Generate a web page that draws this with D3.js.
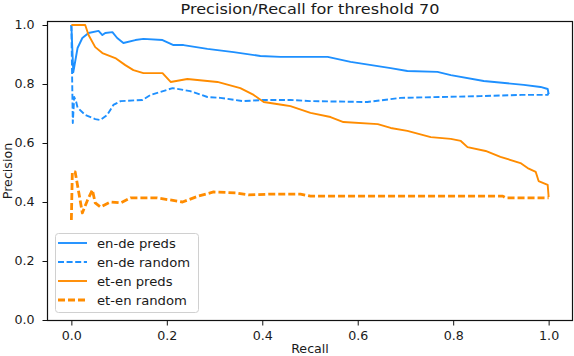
<!DOCTYPE html>
<html><head><meta charset="utf-8">
<script src="https://cdn.jsdelivr.net/npm/d3@7"></script>
<style>body{margin:0;background:#fff}svg{display:block}text{font-family:"DejaVu Sans",sans-serif;fill:#1a1a1a}</style>
</head><body><svg id="c" width="574" height="356"></svg>
<script>
const title = "Precision/Recall for threshold 70";
const xLabel = "Recall", yLabel = "Precision";
const xTicks = [0.0, 0.2, 0.4, 0.6, 0.8, 1.0];
const yTicks = [0.0, 0.2, 0.4, 0.6, 0.8, 1.0];
const seriesNames = ["en-de preds", "en-de random", "et-en preds", "et-en random"];

const enDePredsR = [0,0.004,0.013,0.023,0.036,0.057,0.065,0.071,0.086,0.096,0.109,0.134,0.151,0.191,0.214,0.235,0.285,0.340,0.396,0.438,0.537,0.585,0.669,0.704,0.767,0.795,0.864,0.948,0.983,0.998,1.0];
const enDePredsP = [1.0,0.84,0.922,0.956,0.973,0.98,0.966,0.973,0.976,0.956,0.939,0.949,0.953,0.949,0.932,0.932,0.919,0.908,0.895,0.892,0.892,0.875,0.854,0.844,0.841,0.830,0.810,0.797,0.790,0.783,0.766];

const enDeRandR = [0,0.003,0.006,0.010,0.013,0.029,0.050,0.061,0.075,0.088,0.103,0.149,0.166,0.212,0.249,0.285,0.312,0.360,0.402,0.459,0.500,0.620,0.690,0.774,0.857,0.943,0.998,1.0];
const enDeRandP = [1.0,0.668,0.756,0.740,0.720,0.695,0.681,0.678,0.695,0.729,0.742,0.746,0.763,0.786,0.776,0.756,0.753,0.742,0.746,0.746,0.742,0.739,0.753,0.756,0.759,0.763,0.763,0.770];

const etEnPredsR = [0,0.029,0.036,0.050,0.065,0.092,0.113,0.130,0.151,0.191,0.208,0.243,0.306,0.354,0.382,0.403,0.444,0.459,0.501,0.543,0.570,0.642,0.669,0.704,0.753,0.795,0.816,0.830,0.868,0.899,0.941,0.956,0.973,0.979,0.998,1.0];
const etEnPredsP = [1.0,1.0,0.966,0.925,0.905,0.888,0.864,0.847,0.837,0.837,0.807,0.817,0.807,0.786,0.763,0.739,0.729,0.725,0.702,0.688,0.671,0.664,0.651,0.641,0.620,0.614,0.607,0.586,0.573,0.553,0.532,0.515,0.502,0.471,0.458,0.417];

const etEnRandR = [0,0.002,0.008,0.023,0.034,0.044,0.050,0.061,0.082,0.103,0.124,0.180,0.233,0.266,0.298,0.344,0.371,0.423,0.480,0.501,0.690,0.904,0.910,1.0];
const etEnRandP = [0.339,0.502,0.502,0.363,0.407,0.441,0.397,0.383,0.400,0.397,0.414,0.414,0.400,0.420,0.434,0.431,0.424,0.427,0.427,0.420,0.420,0.420,0.414,0.414];

const colors = ["#1e90ff", "#1e90ff", "#ff8c00", "#ff8c00"];
const dashes = [null, "6,2.6", null, "7,3"];
const widths = [1.9, 1.9, 1.9, 2.8];

const series = [
  {name: seriesNames[0], r: enDePredsR, p: enDePredsP},
  {name: seriesNames[1], r: enDeRandR, p: enDeRandP},
  {name: seriesNames[2], r: etEnPredsR, p: etEnPredsP},
  {name: seriesNames[3], r: etEnRandR, p: etEnRandP}
];

const svg = d3.select("#c");
const L = 47.5, R = 572.5, T = 21.5, B = 320.5;
const x = d3.scaleLinear().domain([-0.05, 1.05]).range([L, R]);
const y = d3.scaleLinear().domain([0, 1.0136]).range([B - 0.5, T - 0.5]);
const SX = 1.1;

const line = d3.line().x(d => x(d[0])).y(d => y(d[1]));
const plot = svg.append("g");
plot.append("defs").append("clipPath").attr("id","clip").append("rect")
  .attr("x", L).attr("y", T).attr("width", R - L).attr("height", B - T);
series.forEach((s, i) => {
  const pts = s.r.map((v, j) => [v, s.p[j]]);
  plot.append("path").attr("d", line(pts)).attr("fill","none")
    .attr("stroke", colors[i]).attr("stroke-width", widths[i])
    .attr("stroke-dasharray", dashes[i]).attr("stroke-linejoin","round")
    .attr("clip-path","url(#clip)");
});

// axes
const xa = svg.append("g").attr("transform", `translate(0,${B})`)
  .call(d3.axisBottom(x).tickValues(xTicks).tickFormat(d3.format(".1f")).tickSize(5).tickPadding(6));
const ya = svg.append("g").attr("transform", `translate(${L},0)`)
  .call(d3.axisLeft(y).tickValues(yTicks).tickFormat(d3.format(".1f")).tickSize(5).tickPadding(8));
[xa, ya].forEach(a => {
  a.select(".domain").remove();
  a.selectAll(".tick line").attr("stroke", "#111").attr("stroke-width", 1);
  a.selectAll(".tick text").attr("font-size", 11.5).attr("font-family", "DejaVu Sans").attr("fill", "#1a1a1a");
});
xa.selectAll(".tick text").attr("transform", `scale(${SX},1)`);
ya.selectAll(".tick text").each(function(){
  const t = d3.select(this); const xx = +t.attr("x");
  t.attr("x", xx / SX).attr("transform", `scale(${SX},1)`);
});

// frame
svg.append("rect").attr("x", L).attr("y", T).attr("width", R - L).attr("height", B - T)
  .attr("fill", "none").attr("stroke", "#111").attr("stroke-width", 1.2);

// labels
svg.append("text").attr("transform", `translate(${(L+R)/2},14) scale(1.15,1)`)
  .attr("text-anchor","middle").attr("font-size", 14).text(title);
svg.append("text").attr("transform", `translate(${(L+R)/2},353) scale(${SX},1)`)
  .attr("text-anchor","middle").attr("font-size", 11.5).text(xLabel);
svg.append("text").attr("transform", `translate(12,${(T+B)/2}) rotate(-90) scale(${SX},1)`)
  .attr("text-anchor","middle").attr("font-size", 11.5).text(yLabel);

// legend
const lg = svg.append("g");
lg.append("rect").attr("x", 55.5).attr("y", 233.5).attr("width", 143).attr("height", 79)
  .attr("rx", 3).attr("fill", "#fff").attr("fill-opacity", 0.8).attr("stroke", "#d0d0d0").attr("stroke-width", 1);
series.forEach((s, i) => {
  const yy = 243 + i * 19;
  lg.append("line").attr("x1", 58).attr("x2", 87).attr("y1", yy).attr("y2", yy)
    .attr("stroke", colors[i]).attr("stroke-width", widths[i]).attr("stroke-dasharray", dashes[i]);
  lg.append("text").attr("transform", `translate(97,${yy + 4.5}) scale(${SX},1)`)
    .attr("font-size", 12).text(s.name);
});
</script></body></html>
